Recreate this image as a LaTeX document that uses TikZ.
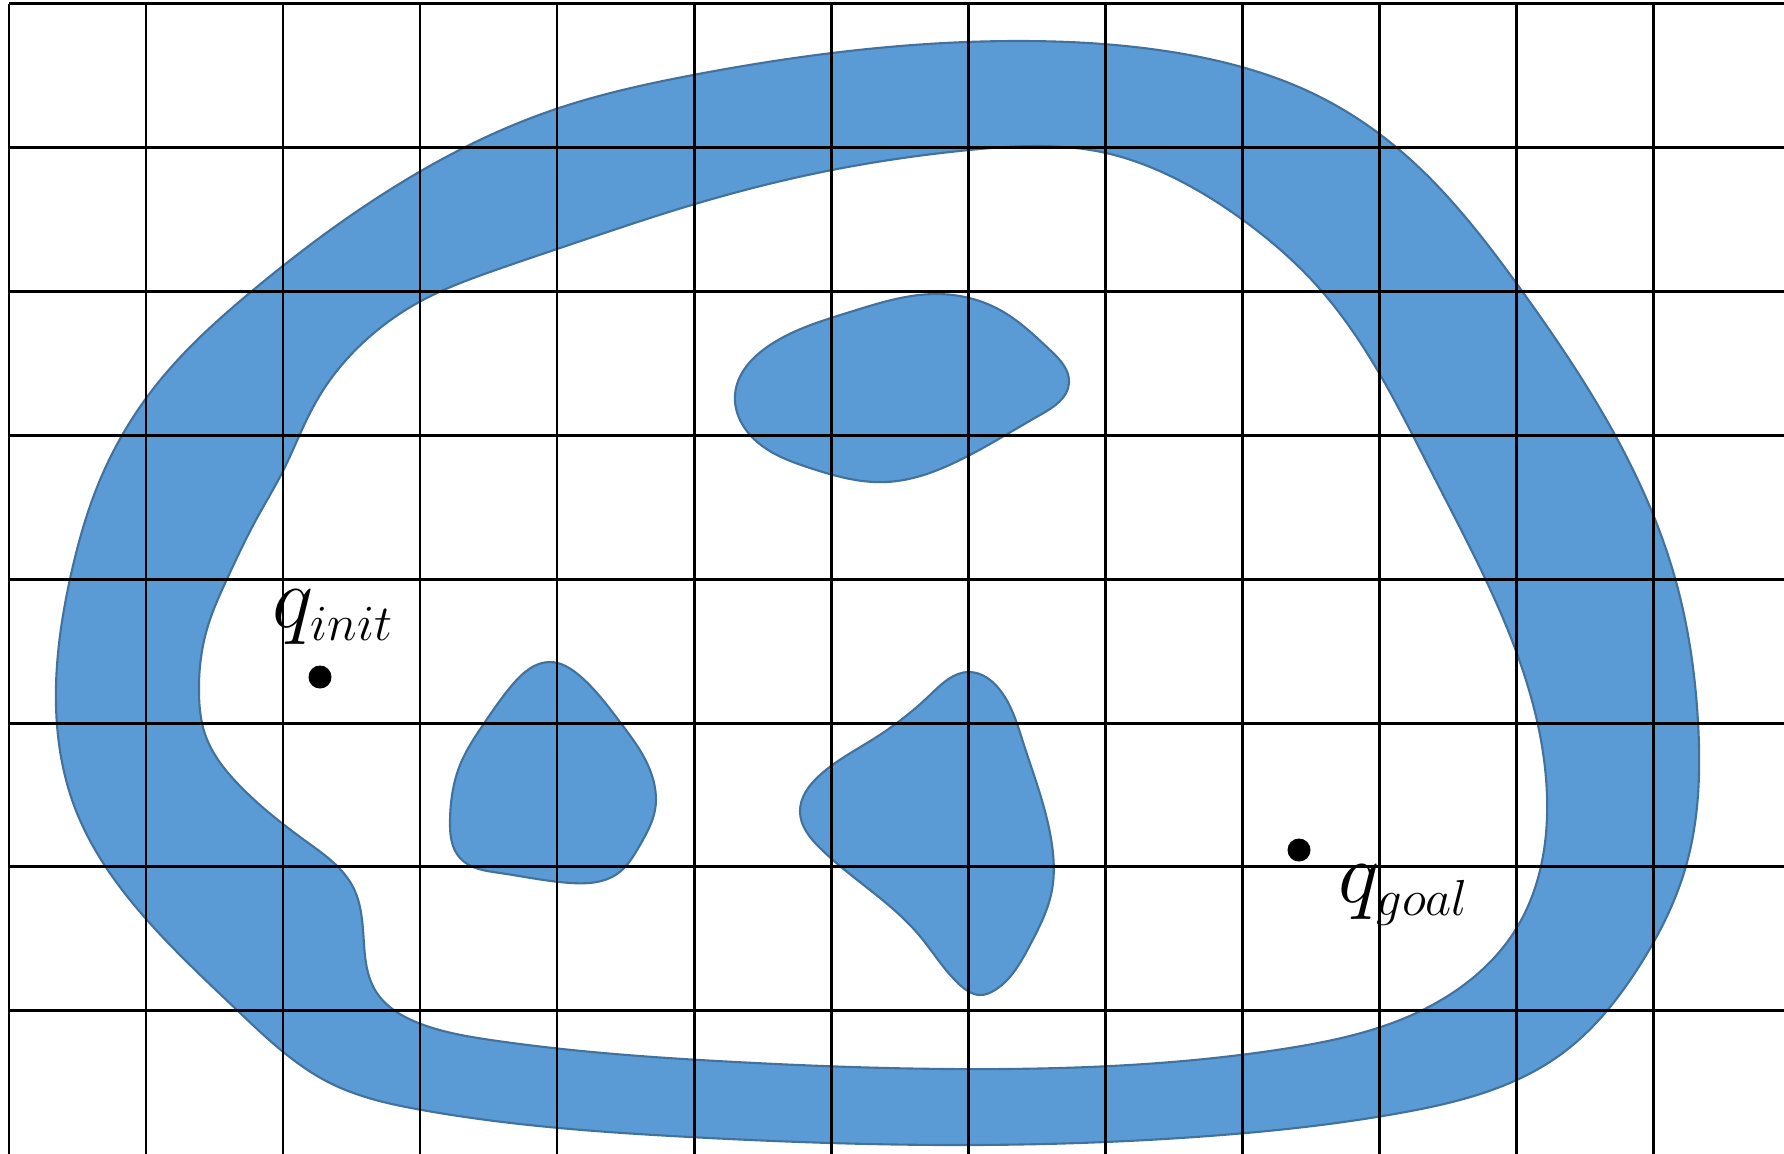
\documentclass[tikz,border=0pt]{standalone}
\usepackage{tikz}
\usetikzlibrary{hobby}
\definecolor{obstfill}{HTML}{5B9BD5}
\definecolor{obstline}{HTML}{41719C}
\DeclareMathSizes{26}{26}{15}{11}

\begin{document}
\begin{tikzpicture}[x=0.01cm, y=-0.01cm,
  obstacle/.style={fill=obstfill, draw=obstline, line width=0.6pt},
  gridline/.style={draw=black, line width=0.85pt},
  config/.style={circle, fill=black, inner sep=0pt, minimum size=0.23cm},
  conflabel/.style={anchor=base west, inner sep=0pt, font=\fontsize{26}{30}\selectfont}]
  \useasboundingbox (0,0) rectangle (1784,1153);
  \filldraw[obstacle, even odd rule]
    plot[closed hobby] coordinates {(56,705) (70,579) (103,473) (157,384) (252,291) (380,196) (553,110) (693,75) (832,53) (1024,41) (1178,53) (1312,93) (1396,147) (1522,291) (1615,435) (1675,578) (1698,722) (1686,866) (1640,965) (1560,1055) (1400,1113) (1195,1137) (965,1145) (690,1137) (422,1110) (330,1083) (238,1011) (147,920) (75,808)}
    plot[closed hobby] coordinates {(199,694) (207,629) (227,579) (257,518) (284,469) (300,434) (320,395) (367,339) (421,301) (490,272) (560,248) (695,204) (832,170) (969,150) (1106,153) (1164,173) (1243,220) (1319,288) (1433,475) (1516,651) (1547,796) (1516,929) (1400,1020) (1283,1049) (1003,1069) (736,1062) (491,1040) (421,1024) (375,990) (364,944) (353,887) (307,842) (239,785) (205,734)};
  \filldraw[obstacle] plot[closed hobby] coordinates {(735,395) (770,345) (850,312) (936,294) (1000,310) (1050,350) (1069,383) (1040,415) (960,460) (886,482) (810,468) (755,440)};
  \filldraw[obstacle] plot[closed hobby] coordinates {(513,684) (550,662) (580,676) (620,722) (650,770) (655,810) (640,845) (617,874) (571,883) (500,873) (460,858) (450,820) (460,765) (485,722)};
  \filldraw[obstacle] plot[closed hobby] coordinates {(969,672) (1000,690) (1023,742) (1052,845) (1052,890) (1030,945) (995,990) (980,995) (960,985) (919,935) (870,890) (820,848) (800,812) (820,775) (875,738) (930,695)};
  \foreach \i in {0,...,12}
    \draw[gridline] ({9+137*\i},3.5) -- ({9+137*\i},1160);
  \foreach \j in {0,...,7}
    \draw[gridline] (9,{3.5+143.9*\j}) -- (1790,{3.5+143.9*\j});
  \node[config] (qinit) at (320,677) {};
  \node[config] (qgoal) at (1299,850) {};
  \node[conflabel] (qinitlabel) at (272,627) {$q_{init}$};
  \node[conflabel] (qgoallabel) at (1338,902) {$q_{goal}$};
\end{tikzpicture}
\end{document}
